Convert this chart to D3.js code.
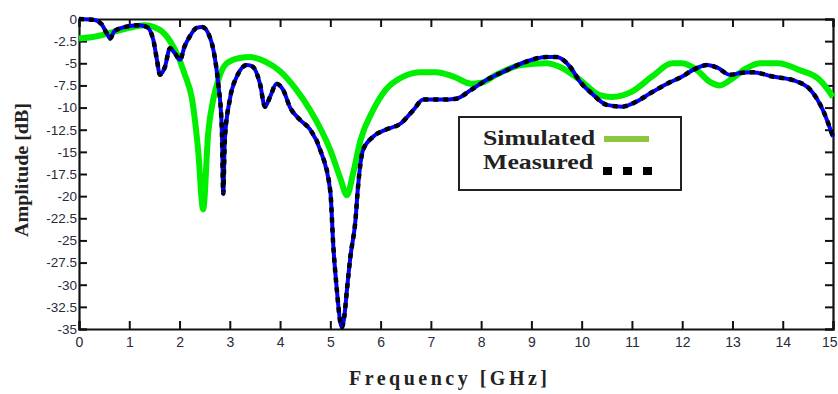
<!DOCTYPE html>
<html><head><meta charset="utf-8">
<script src="https://cdn.jsdelivr.net/npm/d3@7"></script>
<style>
html,body{margin:0;padding:0;background:#fff;}
svg{display:block;}
</style></head>
<body><svg id="c" width="838" height="394"></svg>
<script>
const xTicks = [0,1,2,3,4,5,6,7,8,9,10,11,12,13,14,15];
const yTicks = [0,-2.5,-5,-7.5,-10,-12.5,-15,-17.5,-20,-22.5,-25,-27.5,-30,-32.5,-35];
const simFreq = [0,0.3,0.6,1.0,1.3,1.6,1.8,2.0,2.1,2.25,2.37,2.47,2.57,2.67,2.77,2.94,3.2,3.4,3.7,4.0,4.3,4.6,5.0,5.2,5.33,5.45,5.6,5.85,6.1,6.45,6.8,7.1,7.45,7.8,8.0,8.3,8.8,9.3,9.6,9.97,10.36,10.6,11.0,11.4,11.8,12.0,12.3,12.55,12.75,13.0,13.3,13.55,13.9,14.35,14.74,15];
const simAmp = [-2.2,-2.0,-1.6,-1.0,-0.7,-1.2,-2.4,-4.6,-6.2,-9.1,-14.8,-21.5,-12.9,-9.1,-6.9,-5.0,-4.4,-4.3,-4.8,-5.9,-7.8,-10.3,-14.8,-18.0,-19.9,-17.5,-13.7,-10.3,-8.0,-6.5,-6.0,-6.0,-6.5,-7.3,-7.2,-6.3,-5.2,-5.0,-5.5,-6.9,-8.6,-8.8,-8.2,-6.5,-5.0,-5.0,-5.8,-7.1,-7.5,-6.7,-5.5,-5.0,-5.0,-5.8,-6.9,-8.8];
const measFreq = [0,0.3,0.45,0.55,0.62,0.7,0.85,1.0,1.2,1.35,1.48,1.55,1.61,1.71,1.81,1.91,2.01,2.1,2.2,2.34,2.45,2.6,2.7,2.77,2.84,2.87,2.9,3.0,3.14,3.34,3.46,3.6,3.7,3.8,3.93,4.06,4.2,4.4,4.6,4.8,5.0,5.06,5.13,5.2,5.23,5.28,5.33,5.4,5.5,5.55,5.65,5.85,6.1,6.4,6.65,6.85,7.2,7.5,7.8,8.1,8.5,8.9,9.3,9.5,9.77,9.97,10.2,10.5,10.8,11.1,11.36,11.7,12.0,12.2,12.5,12.7,12.95,13.15,13.4,13.8,14.2,14.55,14.8,15];
const measAmp = [0,-0.1,-0.6,-1.6,-2.2,-1.4,-1.0,-0.8,-0.7,-0.9,-2.4,-4.6,-6.3,-5.4,-3.3,-3.9,-4.6,-3.1,-2.0,-1.0,-0.9,-2.0,-4.3,-7.3,-12.2,-19.7,-13.7,-9.1,-6.5,-5.2,-5.4,-7.3,-9.9,-8.8,-7.3,-8.0,-10.0,-11.4,-12.5,-14.8,-19.5,-25.7,-30.6,-34.3,-34.8,-33.5,-30.6,-26.8,-22.7,-19.0,-14.8,-13.3,-12.5,-11.8,-10.3,-9.1,-9.1,-9.0,-8.0,-6.9,-5.8,-4.8,-4.3,-4.3,-5.4,-7.1,-8.4,-9.7,-9.9,-9.3,-8.4,-7.3,-6.5,-5.8,-5.2,-5.5,-6.3,-6.1,-6.0,-6.5,-6.9,-8.0,-10.3,-13.3];
const seriesNames = ["Simulated","Measured"];

const svg = d3.select("#c");
const L=79, R=833, T=19, B=329;
const x = d3.scaleLinear().domain([0,15]).range([L,R]);
const y = d3.scaleLinear().domain([-35,0]).range([B,T]);

const sim = simFreq.map((f,i)=>[f,simAmp[i]]);
const meas = measFreq.map((f,i)=>[f,measAmp[i]]);
const line = d3.line().x(d=>x(d[0])).y(d=>y(d[1])).curve(d3.curveMonotoneX);

// axes (inward ticks)
const tickFont = "'Liberation Sans', Arial, sans-serif";
const gB = svg.append("g").attr("transform",`translate(0,${B})`)
  .call(d3.axisBottom(x).tickValues(xTicks).tickSize(-8).tickPadding(10).tickFormat(d3.format("d")));
const gT = svg.append("g").attr("transform",`translate(0,${T})`)
  .call(d3.axisTop(x).tickValues(xTicks).tickSize(-8).tickFormat(""));
const gL = svg.append("g").attr("transform",`translate(${L},0)`)
  .call(d3.axisLeft(y).tickValues(yTicks).tickSize(-8).tickPadding(2).tickFormat(d=>String(d)));
const gR = svg.append("g").attr("transform",`translate(${R},0)`)
  .call(d3.axisRight(y).tickValues(yTicks).tickSize(-8).tickFormat(""));
[gB,gT,gL,gR].forEach(g=>{
  g.select(".domain").attr("stroke","#111").attr("stroke-width",2.2);
  g.selectAll(".tick line").attr("stroke","#111").attr("stroke-width",2);
  g.selectAll("text").attr("font-family",tickFont).attr("font-size",14).attr("fill","#2a2a3a");
});
gB.selectAll(".tick text").attr("dy","0.6em");
gB.selectAll(".tick text").filter(d=>d===15).attr("text-anchor","end").attr("dx",4);
gL.selectAll(".tick text").attr("font-size",13.5).attr("x",-2);

// curves
svg.append("path").datum(sim).attr("d",line).attr("fill","none")
  .attr("stroke","#00ee00").attr("stroke-width",6).attr("stroke-linejoin","round");
svg.append("path").datum(meas).attr("d",line).attr("fill","none")
  .attr("stroke","#0000ff").attr("stroke-width",4).attr("stroke-linejoin","round");
svg.append("path").datum(meas).attr("d",line).attr("fill","none")
  .attr("stroke","#000").attr("stroke-width",4.5).attr("stroke-dasharray","5,5");

// axis titles
const serif = "'Liberation Serif','Times New Roman',serif";
svg.append("text").attr("transform","translate(28,170) rotate(-90)")
  .attr("text-anchor","middle").attr("font-family",serif).attr("font-weight","bold")
  .attr("font-size",18).attr("fill","#222").attr("textLength",134).attr("lengthAdjust","spacingAndGlyphs")
  .text("Amplitude [dB]");
svg.append("text").attr("x",448).attr("y",385)
  .attr("text-anchor","middle").attr("font-family",serif).attr("font-weight","bold")
  .attr("font-size",20).attr("fill","#222").attr("textLength",198).attr("lengthAdjust","spacing")
  .text("Frequency [GHz]");

// legend
const lg = svg.append("g");
lg.append("rect").attr("x",459).attr("y",117).attr("width",222).attr("height",73)
  .attr("fill","#fff").attr("stroke","#222").attr("stroke-width",2);
lg.append("text").attr("x",483).attr("y",145).attr("font-family",serif).attr("font-weight","bold")
  .attr("font-size",21).attr("fill","#222").attr("textLength",112).attr("lengthAdjust","spacingAndGlyphs")
  .text(seriesNames[0]);
lg.append("text").attr("x",483).attr("y",169).attr("font-family",serif).attr("font-weight","bold")
  .attr("font-size",21).attr("fill","#222").attr("textLength",110).attr("lengthAdjust","spacingAndGlyphs")
  .text(seriesNames[1]);
lg.append("line").attr("x1",604).attr("x2",649).attr("y1",139).attr("y2",139)
  .attr("stroke","#8cc63f").attr("stroke-width",6);
lg.append("line").attr("x1",603).attr("x2",655).attr("y1",171).attr("y2",171)
  .attr("stroke","#000").attr("stroke-width",8).attr("stroke-dasharray","9,11");
</script></body></html>
